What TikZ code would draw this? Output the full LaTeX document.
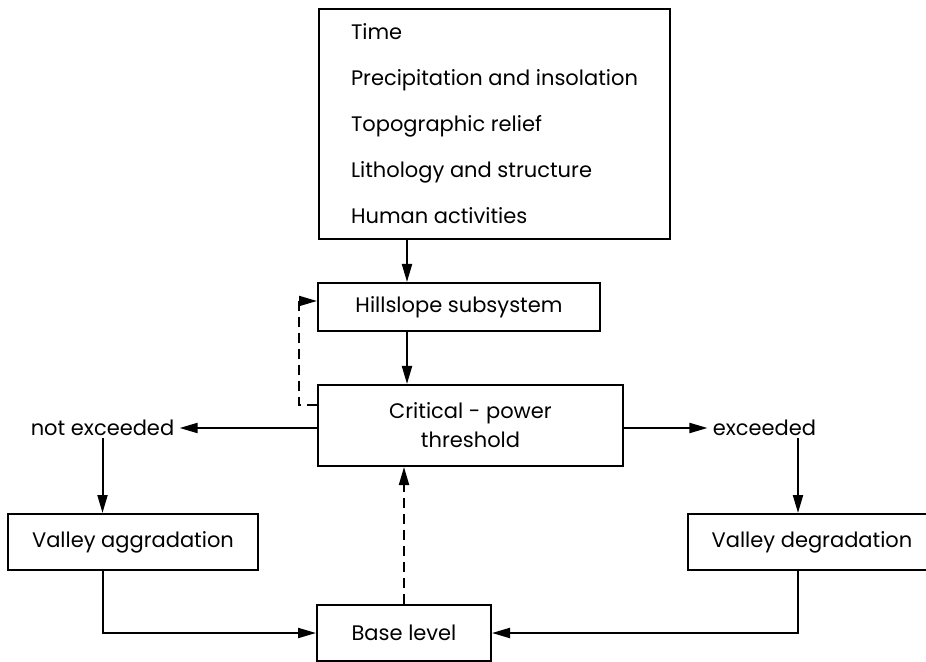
\documentclass[tikz,border=0pt]{standalone}
\usepackage{fontspec}
\setmainfont{Poppins}
\usetikzlibrary{arrows.meta, positioning}
\tikzset{
  box/.style={
    rectangle, draw=black, line width=1pt,
    inner sep=0pt, align=center,
    font=\fontsize{10.5}{14.5}\selectfont
  },
  cond/.style={inner xsep=2.5pt, inner ysep=1pt, font=\fontsize{10.5}{12}\selectfont},
  arrow/.style={-{Triangle[length=9pt,width=5pt]}, line width=1pt},
  dasharrow/.style={arrow, dash pattern=on 5pt off 3pt},
}

\begin{document}
\begin{tikzpicture}[x=0.5pt, y=-0.5pt]
  \useasboundingbox (0,0) rectangle (926,662);

  % controls
  \node[box, minimum width=175.5pt, minimum height=115pt, align=left,
        font=\fontsize{10.5}{23}\selectfont] (factors) at (494.5,124)
    {Time\\Precipitation and insolation\\Topographic relief\\Lithology and structure\\Human activities};
  \node[box, minimum width=141pt, minimum height=24pt] (hill) at (459,307) {Hillslope subsystem};
  \node[box, minimum width=152.5pt, minimum height=40.5pt] (crit) at (470.5,425.5)
    {Critical - power\\threshold};

  % outcomes
  \node[cond] (notexc) at (102.5,428) {not exceeded};
  \node[cond] (exc) at (764.5,428) {exceeded};
  \node[box, minimum width=125pt, minimum height=28pt] (agg) at (133,542) {Valley aggradation};
  \node[box, minimum width=124pt, minimum height=28pt] (deg) at (812,542) {Valley degradation};
  \node[box, minimum width=87pt, minimum height=28pt] (base) at (404,633) {Base level};

  \coordinate (spine) at (407,0);
  \coordinate (rdrop) at (798,0);
  \coordinate (loop) at (299,0);

  \draw[arrow] (factors.south -| spine) -- (hill.north -| spine);
  \draw[arrow] (hill.south -| spine) -- (crit.north -| spine);
  \draw[dasharrow] ([yshift=10pt]crit.west) -| ([yshift=3pt]hill.west -| loop) -- ([yshift=3pt]hill.west);

  \draw[arrow] (crit.west |- notexc.east) -- (notexc.east);
  \draw[arrow] (crit.east |- exc.west) -- (exc.west);
  \draw[arrow] (notexc.south) -- (notexc.south |- agg.north);
  \draw[arrow] (exc.south -| rdrop) -- (deg.north -| rdrop);
  \draw[arrow] (notexc.south |- agg.south) |- (base.west);
  \draw[arrow] (deg.south -| rdrop) |- (base.east);
  \draw[dasharrow] (base.north) -- (base.north |- crit.south);
\end{tikzpicture}
\end{document}
